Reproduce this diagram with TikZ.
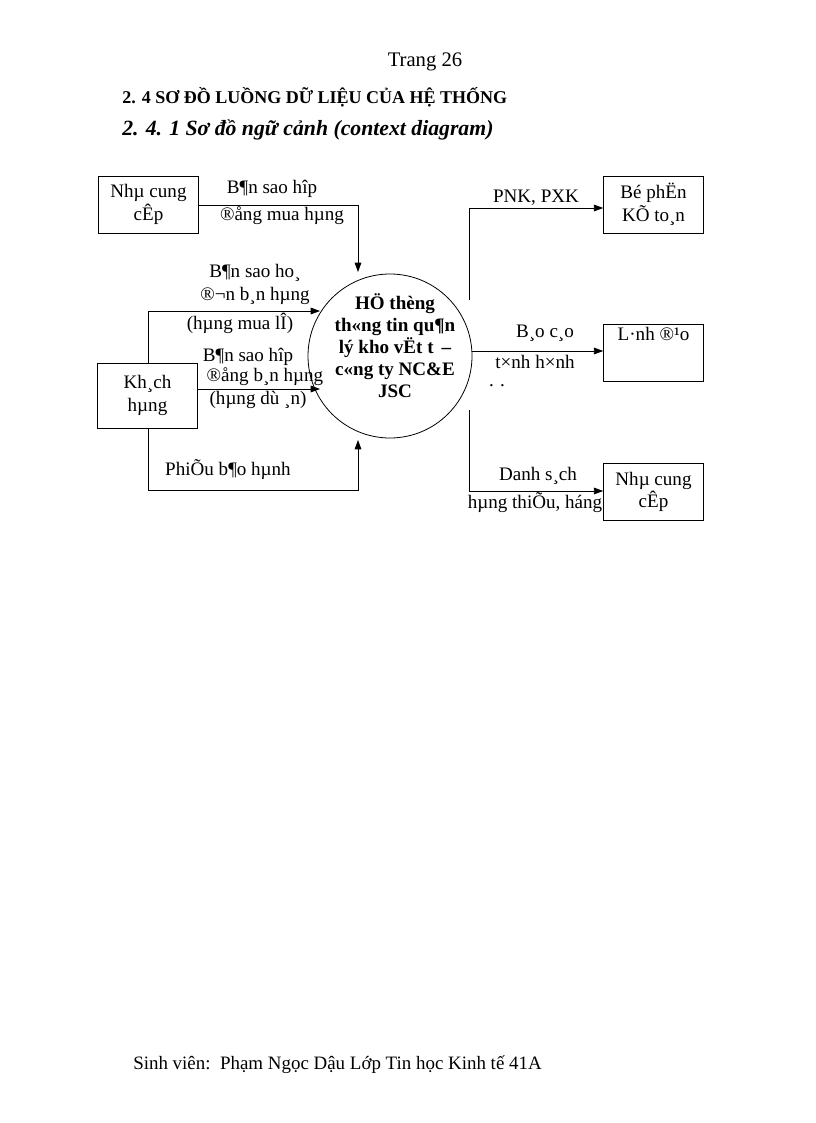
\documentclass[tikz,border=0pt]{standalone}
\usepackage{fontspec}
\setmainfont{Liberation Serif}
\usetikzlibrary{arrows.meta}
\begin{document}
\begin{tikzpicture}[x=0.75pt,y=-0.75pt,
  ent/.style={draw,minimum width=75pt,minimum height=42.75pt,inner sep=0pt,align=center,font=\fontsize{14.3}{17}\selectfont},
  lbl/.style={inner sep=0pt,font=\fontsize{14.3}{17}\selectfont},
  flow/.style={-{Triangle[length=7pt,width=5pt]},line width=0.6pt},
  seg/.style={line width=0.6pt}]
\useasboundingbox (0,0) rectangle (816,1123);
\node[lbl,font=\fontsize{15.5}{18}\selectfont] (pg) at (425,62) {Trang 26};
\node[lbl,anchor=west,font=\bfseries\fontsize{13.5}{16}\selectfont] (h1) at (122,97) {2. 4 SƠ ĐỒ LUỒNG DỮ LIỆU CỦA HỆ THỐNG};
\node[lbl,anchor=west,font=\bfseries\itshape\fontsize{16.3}{19}\selectfont] (h2) at (122,130) {2. 4. 1 Sơ đồ ngữ cảnh (context diagram)};

\node[ent] (ncc1) at (148.5,204.5) {Nhµ cung\\cÊp};
\node[ent,minimum height=48.75pt] (kh) at (147.5,395.5) {Kh¸ch\\hµng};
\node[draw,circle,minimum size=123pt,inner sep=0pt,line width=0.6pt] (sys) at (390,356) {};
\node[lbl,align=center,font=\bfseries\fontsize{14.3}{16.5}\selectfont] (systxt) at (395,346) {HÖ thèng\\th«ng tin qu¶n\\lý kho vËt t \,–\\c«ng ty NC\&E\\JSC};
\node[ent] (bp) at (653.5,204.5) {Bé phËn\\KÕ to¸n};
\node[ent] (ld) at (653.5,353) {L·nh ®¹o\\[12pt]};
\node[ent] (ncc2) at (653.5,492) {Nhµ cung\\cÊp};

\coordinate (c1) at (358,205);
\draw[flow] (ncc1.east|-c1) -- (c1) -- (358,272);
\coordinate (c2) at (148,311);
\draw[flow] (kh.north-|c2) -- (c2) -- (320,311);
\draw[flow] (kh.east|-0,389) -- (320,389);
\coordinate (c3) at (148,490);
\draw[flow] (kh.south-|c3) -- (c3) -- (358,490) -- (358,440);
\draw[flow] (469,300) -- (469,208) -- (bp.west|-0,208);
\draw[flow] (472,351) -- (ld.west|-0,351);
\draw[flow] (469,410) -- (469,491) -- (ncc2.west|-0,491);

\node[lbl] (l1) at (272,189) {B¶n sao hîp};
\node[lbl] (l2) at (282,216) {®ång mua hµng};
\node[lbl] (l3) at (255,273) {B¶n sao ho¸};
\node[lbl] (l4) at (255,296) {®¬n b¸n hµng};
\node[lbl] (l5) at (240,323) {(hµng mua lÎ)};
\node[lbl] (l6) at (248,357) {B¶n sao hîp};
\node[lbl] (l7) at (265,377) {®ång b¸n hµng};
\node[lbl] (l8) at (258,400) {(hµng dù ¸n)};
\node[lbl] (l9) at (228,470) {PhiÕu b¶o hµnh};
\node[lbl] (r1) at (536,198) {PNK, PXK};
\node[lbl] (r2) at (545,333) {B¸o c¸o};
\node[lbl] (r3) at (535,362) {t×nh h×nh};
\node[lbl] (r4) at (497,386) {. .};
\node[lbl] (r5) at (538,476) {Danh s¸ch};
\node[lbl] (r6) at (535,503) {hµng thiÕu, háng};
\node[lbl,anchor=west,font=\fontsize{14.2}{17}\selectfont] (ft) at (133,1065) {Sinh viên:\ \ Phạm Ngọc Dậu Lớp Tin học Kinh tế 41A};
\end{tikzpicture}
\end{document}
